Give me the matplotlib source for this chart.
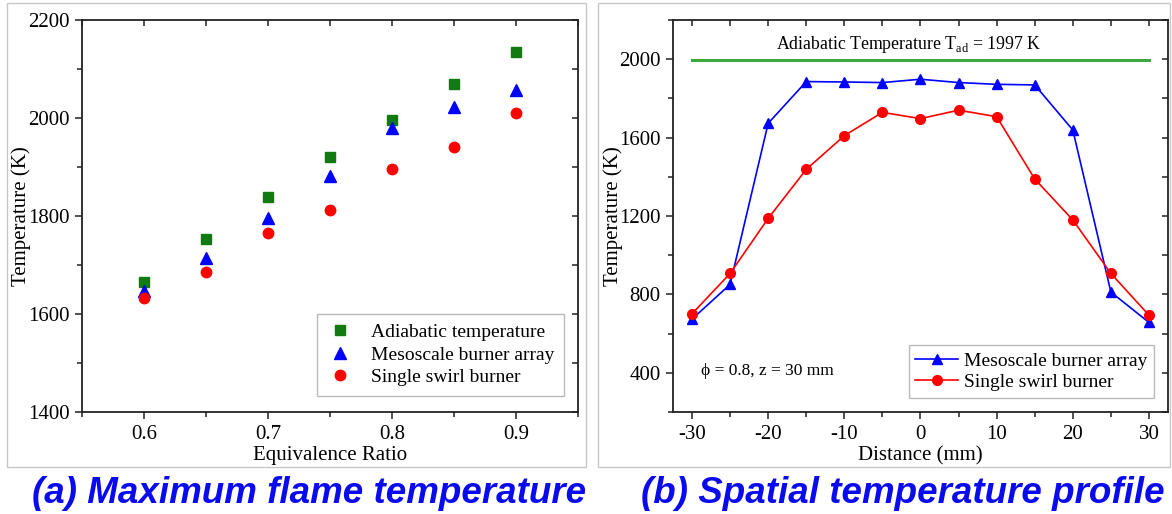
import numpy as np
import matplotlib
matplotlib.use('Agg')
import matplotlib.pyplot as plt
from matplotlib.patches import Rectangle
from matplotlib.ticker import MultipleLocator

plt.rcParams['font.family'] = ['Liberation Serif', 'DejaVu Serif']
plt.rcParams['mathtext.fontset'] = 'custom'
plt.rcParams['mathtext.rm'] = 'Liberation Serif'
plt.rcParams['axes.unicode_minus'] = False

# (a) peak temperature vs equivalence ratio
phi = [0.60, 0.65, 0.70, 0.75, 0.80, 0.85, 0.90]
t_adiabatic = [1666, 1754, 1839, 1921, 1997, 2069, 2134]
t_array = [1647, 1715, 1795, 1882, 1980, 2023, 2057]
t_swirl = [1632, 1685, 1765, 1813, 1895, 1941, 2011]

# (b) radial profile at phi = 0.8, z = 30 mm
dist = [-30, -25, -20, -15, -10, -5, 0, 5, 10, 15, 20, 25, 30]
prof_array = [674, 851, 1673, 1886, 1884, 1881, 1898, 1881, 1872, 1869, 1639, 812, 657]
prof_swirl = [701, 907, 1188, 1438, 1610, 1729, 1697, 1740, 1707, 1389, 1180, 907, 694]
t_ad = 1997

GREEN = '#137a13'
BLUE = '#0000ff'
RED = '#ff0000'
TITLE_BLUE = '#0a0af0'

fig = plt.figure(figsize=(11.72, 5.14), dpi=100)

# light grey frames around each panel
for x0, w in [(0.006, 0.494), (0.5102, 0.488)]:
    fig.patches.append(Rectangle((x0, 0.0914), w, 0.903, transform=fig.transFigure,
                                 fill=False, edgecolor='#c8c8c8', linewidth=1.0))


def style_axes(ax):
    for sp in ax.spines.values():
        sp.set_linewidth(1.3)
        sp.set_color('#222222')
    ax.tick_params(which='both', direction='out', top=False, right=False,
                   labelsize=15, color='#222222', width=1.1, pad=4)
    ax.tick_params(which='major', length=5)
    ax.tick_params(which='minor', length=3.5)
    # mirrored ticks on top and right, pointing inward
    for minor in (False, True):
        sec = ax.secondary_xaxis('top')
        sec.set_xticks(ax.get_xticks(minor=minor))
        sec.tick_params(direction='in', length=4.5, width=1.1, labeltop=False, color='#222222')
        sec.spines['top'].set_visible(False)
        sey = ax.secondary_yaxis('right')
        sey.set_yticks(ax.get_yticks(minor=minor))
        sey.tick_params(direction='in', length=4.5, width=1.1, labelright=False, color='#222222')
        sey.spines['right'].set_visible(False)


# ---- panel (a)
ax1 = fig.add_axes([0.070, 0.1984, 0.4232, 0.7626])
ax1.plot(phi, t_adiabatic, 's', color=GREEN, ms=6.5, label='Adiabatic temperature')
ax1.plot(phi, t_array, '^', color=BLUE, ms=8, label='Mesoscale burner array')
ax1.plot(phi, t_swirl, 'o', color=RED, ms=7.5, label='Single swirl burner')
ax1.set_xlim(0.55, 0.95)
ax1.set_ylim(1400, 2200)
ax1.xaxis.set_minor_locator(MultipleLocator(0.05))
ax1.yaxis.set_major_locator(MultipleLocator(200))
ax1.yaxis.set_minor_locator(MultipleLocator(100))
ax1.set_xticks(phi[::2], ['0.6', '0.7', '0.8', '0.9'])
ax1.set_xlabel('Equivalence Ratio', fontsize=15, labelpad=2)
ax1.set_ylabel('Temperature (K)', fontsize=15)
ax1.yaxis.set_label_coords(-0.103, 0.5)
style_axes(ax1)
leg1 = ax1.legend(loc='lower right', bbox_to_anchor=(0.972, 0.041), borderaxespad=0,
                  fontsize=14, frameon=True, fancybox=False, edgecolor='#aaaaaa',
                  handletextpad=0.9, labelspacing=0.25, borderpad=0.5, handlelength=1.4)
leg1.get_frame().set_linewidth(1.0)

# ---- panel (b)
ax2 = fig.add_axes([0.5742, 0.1984, 0.4224, 0.7626])
ax2.plot([dist[0], dist[-1]], [t_ad, t_ad], '-', color='#3da83d', lw=2.2)
ax2.plot(dist, prof_array, '-^', color=BLUE, lw=1.2, ms=7, label='Mesoscale burner array')
ax2.plot(dist, prof_swirl, '-o', color=RED, lw=1.2, ms=7, label='Single swirl burner')
ax2.set_xlim(-32.5, 32.5)
ax2.set_ylim(200, 2200)
ax2.xaxis.set_major_locator(MultipleLocator(10))
ax2.xaxis.set_minor_locator(MultipleLocator(5))
ax2.yaxis.set_minor_locator(MultipleLocator(200))
ax2.set_yticks([400, 800, 1200, 1600, 2000])
ax2.set_xlabel('Distance (mm)', fontsize=15, labelpad=2)
ax2.set_ylabel('Temperature (K)', fontsize=15)
ax2.yaxis.set_label_coords(-0.101, 0.5)
style_axes(ax2)
ax2.text(-1.5, 2075, 'Adiabatic Temperature T$_{\\mathrm{ad}}$ = %d K' % t_ad,
         ha='center', va='center', fontsize=12.8)
ax2.text(-28.8, 410, '\u03d5 = 0.8, z = 30 mm', ha='left', va='center', fontsize=12.5)
leg2 = ax2.legend(loc='lower right', bbox_to_anchor=(0.972, 0.036), borderaxespad=0,
                  fontsize=14, frameon=True, fancybox=False, edgecolor='#aaaaaa',
                  handletextpad=0.3, labelspacing=0.2, borderpad=0.35, handlelength=2.2)
leg2.get_frame().set_linewidth(1.0)

# panel captions
cap_kw = dict(ha='center', va='baseline', fontsize=26.5, color=TITLE_BLUE,
              fontweight='bold', fontstyle='italic', family=['Liberation Sans', 'DejaVu Sans'])
fig.text(309 / 1172, 11 / 514, '(a) Maximum flame temperature', **cap_kw)
fig.text(903 / 1172, 11 / 514, '(b) Spatial temperature profile', **cap_kw)

fig.savefig('out.png', dpi=100)
